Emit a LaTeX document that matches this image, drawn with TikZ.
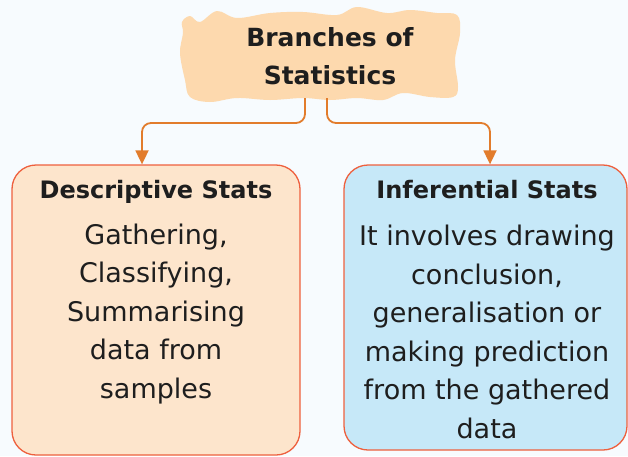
\documentclass[tikz,border=0pt]{standalone}
\usepackage{fontspec}
\setmainfont{DejaVu Sans}
\usetikzlibrary{arrows.meta,positioning,calc}
\definecolor{bgcol}{RGB}{247,251,254}
\definecolor{cloudcol}{RGB}{253,217,174}
\definecolor{desccol}{RGB}{253,229,204}
\definecolor{infcol}{RGB}{198,232,248}
\definecolor{rimcol}{RGB}{238,96,62}
\definecolor{linkcol}{RGB}{226,124,44}
\definecolor{inkcol}{RGB}{30,30,30}
\tikzset{
  branchbox/.style={draw=rimcol,line width=1.3pt,rounded corners=24pt,inner sep=0pt},
  headtxt/.style={font=\fontsize{24}{28}\selectfont\bfseries,text=inkcol},
  bodytxt/.style={font=\fontsize{27}{38.5}\selectfont,text=inkcol,align=center},
  link/.style={-{Triangle[length=14pt,width=13pt]},draw=linkcol,line width=1.8pt,rounded corners=9pt}
}

\begin{document}
\begin{tikzpicture}[x=1pt,y=-1pt]
\fill[bgcol] (0,0) rectangle (628,456);
\useasboundingbox (0,0) rectangle (628,456);
% cloud
\fill[cloudcol] plot[smooth cycle,tension=0.6] coordinates{
  (182,22) (190,16) (200,22) (217,11) (237,18) (270,13) (303,12) (337,15)
  (357,7) (387,13) (410,10) (437,13) (457,15) (460,33) (455,60) (458,87)
  (453,97) (430,97) (403,93) (383,100) (357,98) (330,100) (303,98) (270,100)
  (237,98) (210,102) (190,97) (185,80) (180,53) (183,33)};
\node[headtxt,font=\fontsize{25}{38}\selectfont\bfseries,align=center](root) at (330,56){Branches of\\Statistics};
\coordinate (rootL) at (305,98);
\coordinate (rootR) at (327,98);
% boxes
\node[branchbox,fill=desccol,minimum width=288pt,minimum height=290pt](desc) at (156,310){};
\node[branchbox,fill=infcol,minimum width=283pt,minimum height=285pt](inf) at (485.5,307.5){};
\node[headtxt](descT) at (156,192){Descriptive Stats};
\node[headtxt](infT) at (487,190){Inferential Stats};
\node[bodytxt](descB) at (156,314){Gathering,\\Classifying,\\Summarising\\data from\\samples};
\node[bodytxt](infB) at (487,332){It involves drawing\\conclusion,\\generalisation or\\making prediction\\from the gathered\\data};
% links
\draw[link] (rootL) -- ++(0,25) -| ($(desc.north)+(-14,0)$);
\draw[link] (rootR) -- ++(0,25) -| ($(inf.north)+(4.5,0)$);
\end{tikzpicture}
\end{document}
